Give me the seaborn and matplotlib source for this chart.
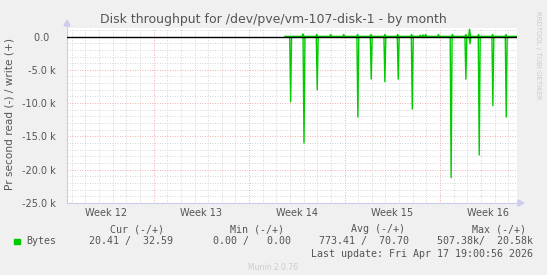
import numpy as np
import pandas as pd
import matplotlib
matplotlib.use("Agg")
import matplotlib.pyplot as plt
import seaborn as sns
from matplotlib.ticker import MultipleLocator, FixedLocator

# ---- data (x in days from graph start, y in bytes/s) ----
read_days = [16.40, 17.38, 18.35, 21.33, 22.31, 23.31, 24.29, 25.32,
             28.17, 29.25, 29.55, 29.91, 30.23, 31.23, 32.21, 32.40]
read_vals = [-9800, -16000, -8000, -12100, -6400, -6800, -6400, -10900,
             -21200, -6400, -1100, -200, -17800, -10400, -12100, -200]
write_days = [17.30, 18.31, 19.34, 20.29, 21.31, 22.29, 23.31, 24.25, 25.27,
              25.90, 26.10, 26.30, 27.24, 28.26, 29.25, 29.52, 30.18, 31.21, 32.19]
write_vals = [400, 300, 300, 300, 300, 300, 300, 300, 300,
              200, 250, 300, 300, 300, 300, 1100, 300, 300, 300]
data_start, data_end = 16.0, 33.0

week_bounds = [6.35, 13.35, 20.35, 27.35]
week_labels = ["Week 12", "Week 13", "Week 14", "Week 15", "Week 16"]
week_centers = [2.85, 9.85, 16.85, 23.85, 30.85]
ytick_vals = [0, -5000, -10000, -15000, -20000, -25000]
ytick_labels = ["0.0  ", "-5.0 k", "-10.0 k", "-15.0 k", "-20.0 k", "-25.0 k"]

def spikes(days, vals):
    xs, ys = [data_start], [0.0]
    for d, v in zip(days, vals):
        xs += [d - 0.07, d, d + 0.07]
        ys += [0.0, v, 0.0]
    xs.append(data_end); ys.append(0.0)
    return xs, ys

rx, ry = spikes(read_days, read_vals)
wx, wy = spikes(write_days, write_vals)
df = pd.concat([
    pd.DataFrame({"day": rx, "val": ry, "series": "read"}),
    pd.DataFrame({"day": wx, "val": wy, "series": "write"}),
])

W, H = 547, 275
fig = plt.figure(figsize=(W / 100, H / 100), dpi=100, facecolor="#F0F0F0")
ax = fig.add_axes([67 / W, 1 - 203 / H, (517 - 67) / W, (203 - 28) / H])
ax.set_facecolor("white")

green = "#00CC00"
sns.lineplot(data=df, x="day", y="val", units="series", estimator=None,
             sort=False, color=green, linewidth=1.0, ax=ax, legend=False)

ax.set_xlim(0, 33)
ax.set_ylim(-25000, 1280)
ax.set_xlabel("")
ax.set_ylabel("")

# grid
ax.xaxis.set_minor_locator(FixedLocator([0.35 + k for k in range(33)]))
ax.xaxis.set_major_locator(FixedLocator(week_bounds))
ax.yaxis.set_minor_locator(MultipleLocator(1000))
ax.yaxis.set_major_locator(FixedLocator(ytick_vals))
ax.grid(which="minor", color="#c8c8c8", linestyle=(0, (1, 2)), linewidth=0.6)
ax.grid(which="major", color="#ee9090", linestyle=(0, (1, 2)), linewidth=0.6)
ax.set_axisbelow(True)
ax.axhline(0, color="black", linewidth=1.0, zorder=5)

ax.set_xticklabels([])
ax.set_yticklabels(ytick_labels)
ax.tick_params(axis="both", which="both", length=0)
ax.tick_params(axis="y", labelsize=7.0, labelcolor="#555555", pad=8)
for c, lab in zip(week_centers, week_labels):
    ax.text(c, -0.055, lab, transform=ax.get_xaxis_transform(), ha="center",
            va="center", fontsize=7.0, color="#555555")

for s in ["top", "right"]:
    ax.spines[s].set_visible(False)
for s in ["left", "bottom"]:
    ax.spines[s].set_color("#ccccee")
    ax.spines[s].set_linewidth(0.8)

# axis arrows
axcol = "#ccccee"
fig.add_artist(plt.Line2D([67 / W, 67 / W], [1 - 28 / H, 1 - 22 / H], color=axcol, lw=0.8))
fig.add_artist(plt.Polygon([[64 / W, 1 - 26 / H], [70 / W, 1 - 26 / H], [67 / W, 1 - 20 / H]],
                           closed=True, color=axcol, transform=fig.transFigure))
fig.add_artist(plt.Line2D([517 / W, 520 / W], [1 - 203 / H, 1 - 203 / H], color=axcol, lw=0.8))
fig.add_artist(plt.Polygon([[518 / W, 1 - 200 / H], [518 / W, 1 - 206 / H], [524 / W, 1 - 203 / H]],
                           closed=True, color=axcol, transform=fig.transFigure))

# title and labels
fig.text(273 / W, 1 - 20 / H, "Disk throughput for /dev/pve/vm-107-disk-1 - by month",
         ha="center", va="center", fontsize=9.0, color="#555555")
fig.text(10 / W, 1 - 114 / H, "Pr second read (-) / write (+)", rotation=90,
         ha="center", va="center", fontsize=7.6, color="#555555")
fig.text(538 / W, 1 - 55 / H, "RRDTOOL / TOBI OETIKER", rotation=270,
         ha="center", va="center", fontsize=5.0, color="#cccccc")

# legend block
mono = dict(family="DejaVu Sans Mono", fontsize=7.2, color="#555555", va="center")
def ft(x, y, s, ha="left"):
    fig.text(x / W, 1 - y / H, s, ha=ha, **mono)

fig.add_artist(plt.Rectangle((14 / W, 1 - 244.2 / H), 5.5 / W, 5.5 / H,
                             color=green, transform=fig.transFigure))
ft(164, 229, "Cur (-/+)", "right")
ft(284.4, 229, "Min (-/+)", "right")
ft(405.4, 229, "Avg (-/+)", "right")
ft(526.2, 229, "Max (-/+)", "right")
ft(26.2, 241.4, "Bytes")
ft(173.4, 241.4, "20.41 /  32.59", "right")
ft(291.3, 241.4, "0.00 /   0.00", "right")
ft(409, 241.4, "773.41 /  70.70", "right")
ft(533, 241.4, "507.38k/  20.58k", "right")
ft(533, 253.6, "Last update: Fri Apr 17 19:00:56 2026", "right")
fig.text(273 / W, 1 - 268 / H, "Munin 2.0.76", ha="center", va="center",
         fontsize=5.5, color="#cccccc")

fig.savefig("out.png", dpi=100, facecolor=fig.get_facecolor())
